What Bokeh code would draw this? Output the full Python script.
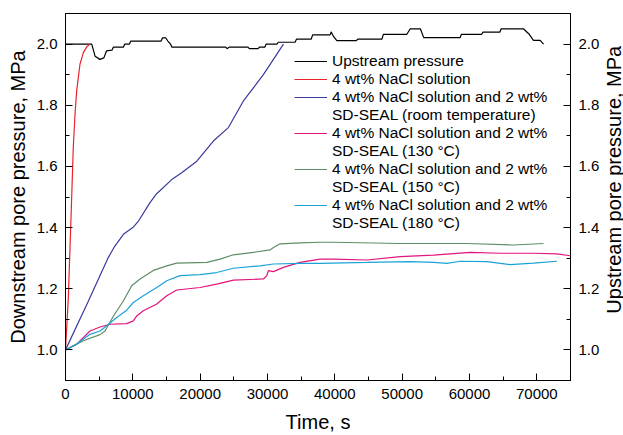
import math
from bokeh.plotting import figure
from bokeh.layouts import row
from bokeh.models import (Range1d, LinearAxis, SingleIntervalTicker, NumeralTickFormatter,
                          Legend, LegendItem, Label)
from bokeh.embed import file_html
from bokeh.resources import INLINE

# ---------------- data ----------------
up_t = [0, 3900, 4400, 5100, 5700, 6100, 6900, 7100, 8600, 8800, 9500, 9700, 14200, 14400,
        14900, 15200, 15600, 15800, 23800, 24000, 24300, 27100, 27300, 28600, 28800, 29600,
        29800, 31400, 31600, 34100, 34300, 36500, 36700, 39300, 39450, 39800, 40300, 43200,
        43400, 47000, 47200, 50700, 51200, 52700, 53200, 58600, 58800, 61800, 62000, 64500,
        64700, 68000, 68800, 69500, 70500, 71000]
up_p = [2.000, 2.000, 1.960, 1.950, 1.955, 1.978, 1.980, 1.990, 1.990, 2.000, 2.000, 2.010,
        2.010, 2.020, 2.020, 2.010, 2.000, 1.990, 1.990, 1.985, 1.990, 1.990, 1.985, 1.985,
        1.990, 1.990, 2.000, 2.000, 2.006, 2.006, 2.016, 2.016, 2.030, 2.030, 2.040, 2.025,
        2.011, 2.011, 2.016, 2.016, 2.032, 2.032, 2.050, 2.050, 2.021, 2.021, 2.032, 2.032,
        2.039, 2.039, 2.050, 2.050, 2.034, 2.012, 2.012, 2.000]

nacl_t = [0, 420, 670, 920, 1160, 1410, 1660, 2150, 2650, 3150, 3640]
nacl_p = [1.000, 1.170, 1.335, 1.500, 1.664, 1.770, 1.847, 1.934, 1.972, 1.991, 2.000]

rt_t = [0, 3300, 6300, 7200, 8600, 10000, 10800, 12500, 13500, 15780, 17260, 19500,
        21960, 24190, 26420, 29390, 32370]
rt_p = [1.000, 1.155, 1.300, 1.335, 1.378, 1.400, 1.420, 1.480, 1.510, 1.557, 1.579,
        1.617, 1.683, 1.727, 1.814, 1.900, 2.000]

t130_t = [0, 1660, 3640, 5130, 6610, 9090, 10070, 10580, 11560, 13550, 15040, 16520, 19990,
          22470, 24930, 29390, 29900, 30130, 30880, 32360, 34840, 37810, 39800, 44750, 49700,
          54650, 60100, 64560, 69510, 72990, 75000]
t130_p = [1.000, 1.019, 1.062, 1.075, 1.084, 1.086, 1.095, 1.111, 1.128, 1.150, 1.177, 1.196,
          1.204, 1.215, 1.228, 1.232, 1.243, 1.259, 1.256, 1.270, 1.286, 1.297, 1.297, 1.294,
          1.305, 1.310, 1.319, 1.316, 1.316, 1.314, 1.308]

t150_t = [0, 2650, 5130, 5870, 7100, 8590, 9830, 11070, 13050, 15040, 16520, 20980, 22960,
          24930, 27900, 30390, 30880, 31870, 34840, 37810, 39800, 49700, 59600, 66540, 71000]
t150_p = [1.000, 1.030, 1.050, 1.062, 1.110, 1.160, 1.210, 1.232, 1.260, 1.275, 1.284, 1.286,
          1.297, 1.311, 1.319, 1.327, 1.335, 1.347, 1.350, 1.352, 1.352, 1.348, 1.348, 1.343,
          1.348]

t180_t = [0, 1660, 3640, 5130, 6120, 7610, 9090, 10070, 11560, 13550, 15040, 17010, 19990,
          22470, 24930, 28900, 30880, 34840, 37810, 44750, 51180, 54650, 56640, 58620, 62580,
          66050, 69510, 72990]
t180_p = [1.000, 1.019, 1.051, 1.062, 1.079, 1.106, 1.130, 1.155, 1.177, 1.204, 1.226, 1.243,
          1.246, 1.253, 1.267, 1.275, 1.281, 1.283, 1.283, 1.286, 1.289, 1.286, 1.283, 1.290,
          1.289, 1.279, 1.284, 1.290]

x_ticks_step = 10000
y_ticks_step = 0.2

FONT = "Liberation Sans"

p = figure(width=603, height=435, output_backend="svg", toolbar_location=None,
           x_range=Range1d(0, 75000), y_range=Range1d(0.9, 2.1),
           min_border_left=65, min_border_right=33, min_border_top=13, min_border_bottom=54)
p.extra_y_ranges = {"right": Range1d(0.9, 2.1)}
p.grid.visible = False
p.outline_line_color = "black"
p.outline_line_width = 1
p.background_fill_color = "white"
p.border_fill_color = "white"

ax_r = LinearAxis(y_range_name="right")
p.add_layout(ax_r, "right")

for ax in [p.xaxis[0], p.yaxis[0], ax_r]:
    ax.axis_line_color = "black"
    ax.major_tick_line_color = "black"
    ax.minor_tick_line_color = "black"
    ax.major_tick_in = 7
    ax.major_tick_out = 0
    ax.minor_tick_in = 4
    ax.minor_tick_out = 0
    ax.major_label_text_font = FONT
    ax.major_label_text_font_size = "15px"
    ax.major_label_text_color = "black"
    ax.axis_label_text_font = FONT
    ax.axis_label_text_font_size = "20px"
    ax.axis_label_text_font_style = "normal"
    ax.axis_label_text_color = "black"

p.xaxis[0].ticker = SingleIntervalTicker(interval=x_ticks_step, num_minor_ticks=2)
p.xaxis[0].formatter = NumeralTickFormatter(format="0")
p.xaxis[0].axis_label = "Time, s"
p.xaxis[0].major_label_standoff = 8
p.xaxis[0].axis_label_standoff = 9
for ax in [p.yaxis[0], ax_r]:
    ax.ticker = SingleIntervalTicker(interval=y_ticks_step, num_minor_ticks=2)
    ax.formatter = NumeralTickFormatter(format="0.0")
    ax.major_label_standoff = 8
p.yaxis[0].axis_label_standoff = 5
p.yaxis[0].axis_label = "Downstream pore pressure, MPa"

LW = 1.2
r_up = p.line(up_t, up_p, line_color="black", line_width=LW)
r_nacl = p.line(nacl_t, nacl_p, line_color="#e8232a", line_width=LW)
r_rt = p.line(rt_t, rt_p, line_color="#3a3a9e", line_width=LW)
r_130 = p.line(t130_t, t130_p, line_color="#e2147d", line_width=LW)
r_150 = p.line(t150_t, t150_p, line_color="#5e8e66", line_width=LW)
r_180 = p.line(t180_t, t180_p, line_color="#1aa3d6", line_width=LW)
# invisible stand-in for the second line of the wrapped legend entries
r_blank = p.line([], [], line_color="white", line_width=LW)

items = [
    LegendItem(label="Upstream pressure", renderers=[r_up]),
    LegendItem(label="4 wt% NaCl solution", renderers=[r_nacl]),
    LegendItem(label="4 wt% NaCl solution and 2 wt%", renderers=[r_rt]),
    LegendItem(label="SD-SEAL (room temperature)", renderers=[r_blank]),
    LegendItem(label="4 wt% NaCl solution and 2 wt%", renderers=[r_130]),
    LegendItem(label="SD-SEAL (130 °C)", renderers=[r_blank]),
    LegendItem(label="4 wt% NaCl solution and 2 wt%", renderers=[r_150]),
    LegendItem(label="SD-SEAL (150 °C)", renderers=[r_blank]),
    LegendItem(label="4 wt% NaCl solution and 2 wt%", renderers=[r_180]),
    LegendItem(label="SD-SEAL (180 °C)", renderers=[r_blank]),
]
leg = Legend(items=items, location=(229, 148))
leg.border_line_color = None
leg.background_fill_alpha = 0
leg.padding = 0
leg.margin = 0
leg.spacing = 0
leg.glyph_width = 33
leg.glyph_height = 18
leg.label_height = 18
leg.label_standoff = 5
leg.label_text_font = FONT
leg.label_text_font_size = "15.5px"
leg.label_text_color = "black"
leg.label_text_baseline = "middle"
p.add_layout(leg, "center")

# narrow strip to the right that carries the right axis title (bottom-to-top)
p2 = figure(width=20, height=435, output_backend="svg", toolbar_location=None,
            x_range=Range1d(0, 1), y_range=Range1d(0, 435),
            min_border_left=0, min_border_right=0, min_border_top=0, min_border_bottom=0)
p2.axis.visible = False
p2.grid.visible = False
p2.outline_line_color = None
p2.background_fill_color = "white"
p2.border_fill_color = "white"
p2.add_layout(Label(x=0.5, y=238, text="Upstream pore pressure, MPa", angle=math.pi / 2,
                    text_align="center", text_baseline="middle", text_font=FONT,
                    text_font_size="20px", text_color="black"))

layout = row(p, p2, spacing=0)
open("out.html", "w").write(file_html(layout, INLINE))
